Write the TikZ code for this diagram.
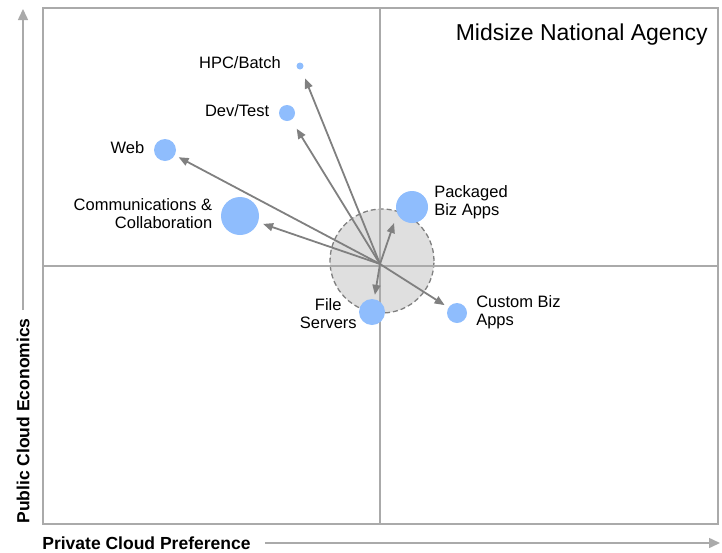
\documentclass[tikz,border=0pt]{standalone}
\usepackage{fontspec}
\setmainfont{Liberation Sans}
\usetikzlibrary{arrows.meta, positioning}
\definecolor{bubbleblue}{RGB}{143,189,253}
\definecolor{framegray}{RGB}{170,170,170}
\definecolor{flowgray}{RGB}{128,128,128}

\begin{document}
\begin{tikzpicture}[
    thick,
    x=1pt, y=-1pt,
    bubble/.style={circle, fill=bubbleblue, inner sep=0pt, minimum size=#1},
    lbl/.style={inner sep=0pt, font=\fontsize{16.5}{18}\selectfont},
    axislbl/.style={inner sep=0pt, font=\fontsize{17.5}{20}\selectfont\bfseries},
    flow/.style={draw=flowgray, line width=1.8pt, -{Triangle[length=10pt, width=8pt]}},
    axisline/.style={draw=framegray, line width=1.5pt, -{Triangle[length=11pt, width=10pt]}},
    frame/.style={draw=framegray, line width=1.8pt}
]

\useasboundingbox (0,0) rectangle (722,552);

\node[circle, draw=flowgray, dash pattern=on 5pt off 3pt, line width=1.3pt, fill=gray!25,
      minimum size=104pt, inner sep=0pt] (core) at (382,261) {};
\draw[frame] (43,8) rectangle (718,524);
\draw[frame] (380,8) -- (380,524);
\draw[frame] (43,266) -- (718,266);

\node[bubble=7pt] (hpc) at (300,66) {};
\node[bubble=16pt] (dev) at (287,113) {};
\node[bubble=22pt] (web) at (165,150) {};
\node[bubble=38pt] (comm) at (240,216) {};
\node[bubble=32pt] (pkg) at (412,207) {};
\node[bubble=26pt] (fs) at (372,312) {};
\node[bubble=20pt] (cust) at (457,313) {};

\node[lbl, left=15pt of hpc, yshift=3pt] (hpclbl) {HPC/Batch};
\node[lbl, left=9pt of dev, yshift=2pt] (devlbl) {Dev/Test};
\node[lbl, left=9pt of web, yshift=2.5pt] (weblbl) {Web};
\node[lbl, left=8pt of comm, yshift=2.5pt, align=right] (commlbl) {Communications \&\\Collaboration};
\node[lbl, right=5.5pt of pkg, yshift=5pt, align=left] (pkglbl) {Packaged\\Biz Apps};
\node[lbl, left=1.5pt of fs, yshift=-2pt, align=center] (fslbl) {File\\Servers};
\node[lbl, right=8.5pt of cust, yshift=1pt, align=left] (custlbl) {Custom Biz\\Apps};

\node[inner sep=0pt, anchor=east, font=\fontsize{23}{27}\selectfont] (title) at (708,35) {Midsize National Agency};

\coordinate (hub) at (380,264);
\path
    (hub) edge [flow, shorten >=9.5pt] (hpc)
    (hub) edge [flow, shorten >=10pt] (dev)
    (hub) edge [flow, shorten >=4pt] (web)
    (hub) edge [flow, shorten >=5pt] (comm)
    (hub) edge [flow, shorten >=9.6pt] (pkg.205)
    (hub) edge [flow, shorten >=4pt] (fs)
    (hub) edge [flow, shorten >=4.3pt] (cust)
    ;

\node[axislbl, rotate=90] (ylab) at (23,421) {Public Cloud Economics};
\coordinate (ytop) at (23,9);
\draw[axisline, shorten <=8pt] (ylab) -- (ytop);

\node[axislbl, anchor=west] (xlab) at (42,543) {Private Cloud Preference};
\coordinate (xend) at (720,543);
\draw[axisline, shorten <=14pt] (xlab) -- (xend);

\end{tikzpicture}
\end{document}
